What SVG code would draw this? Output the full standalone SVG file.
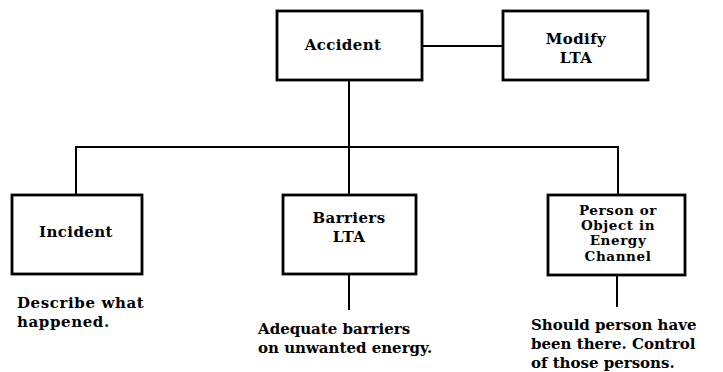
<svg xmlns="http://www.w3.org/2000/svg" width="723" height="372" viewBox="0 0 723 372">
  <style>
    .box { fill: #fff; stroke: #000; stroke-width: 2.8; }
    .wire { fill: none; stroke: #000; stroke-width: 2; }
    .lbl { font-family: "DejaVu Serif", "Liberation Serif", serif; font-weight: bold; font-size: 15px; letter-spacing: 0.4px; fill: #000; text-anchor: middle; }
    .lbl.small { font-size: 13.5px; letter-spacing: 0.6px; }
    .note { font-family: "DejaVu Serif", "Liberation Serif", serif; font-weight: bold; font-size: 15px; fill: #000; }
  </style>
  <rect width="723" height="372" fill="#fff"/>
  <g id="connectors">
    <path class="wire" d="M422 46 H503"/>
    <path class="wire" d="M349 80 V147"/>
    <path class="wire" d="M76 195 V147 H618 V195"/>
    <path class="wire" d="M349 147 V195"/>
    <path class="wire" d="M349 274 V310"/>
    <path class="wire" d="M617 275 V307"/>
  </g>
  <g id="accident">
    <rect class="box" x="277" y="11" width="145" height="69"/>
    <text class="lbl" x="343" y="50">Accident</text>
  </g>
  <g id="modify-lta">
    <rect class="box" x="503" y="11" width="145" height="69"/>
    <text class="lbl" x="576" y="44">Modify</text>
    <text class="lbl" x="576" y="63">LTA</text>
  </g>
  <g id="incident">
    <rect class="box" x="12" y="195" width="130" height="79"/>
    <text class="lbl" x="76" y="237">Incident</text>
    <text class="note" x="17" y="308" letter-spacing="0.6">Describe what</text>
    <text class="note" x="17" y="327" letter-spacing="0.6">happened.</text>
  </g>
  <g id="barriers-lta">
    <rect class="box" x="283" y="195" width="133" height="79"/>
    <text class="lbl" x="349" y="223">Barriers</text>
    <text class="lbl" x="349" y="242">LTA</text>
    <text class="note" x="258" y="334">Adequate barriers</text>
    <text class="note" x="258" y="353">on unwanted energy.</text>
  </g>
  <g id="person-object">
    <rect class="box" x="548" y="195" width="137" height="80"/>
    <text class="lbl small" x="618" y="215">Person or</text>
    <text class="lbl small" x="618" y="230">Object in</text>
    <text class="lbl small" x="618" y="245">Energy</text>
    <text class="lbl small" x="618" y="261">Channel</text>
    <text class="note" x="531" y="330">Should person have</text>
    <text class="note" x="531" y="349">been there. Control</text>
    <text class="note" x="531" y="368">of those persons.</text>
  </g>
</svg>
